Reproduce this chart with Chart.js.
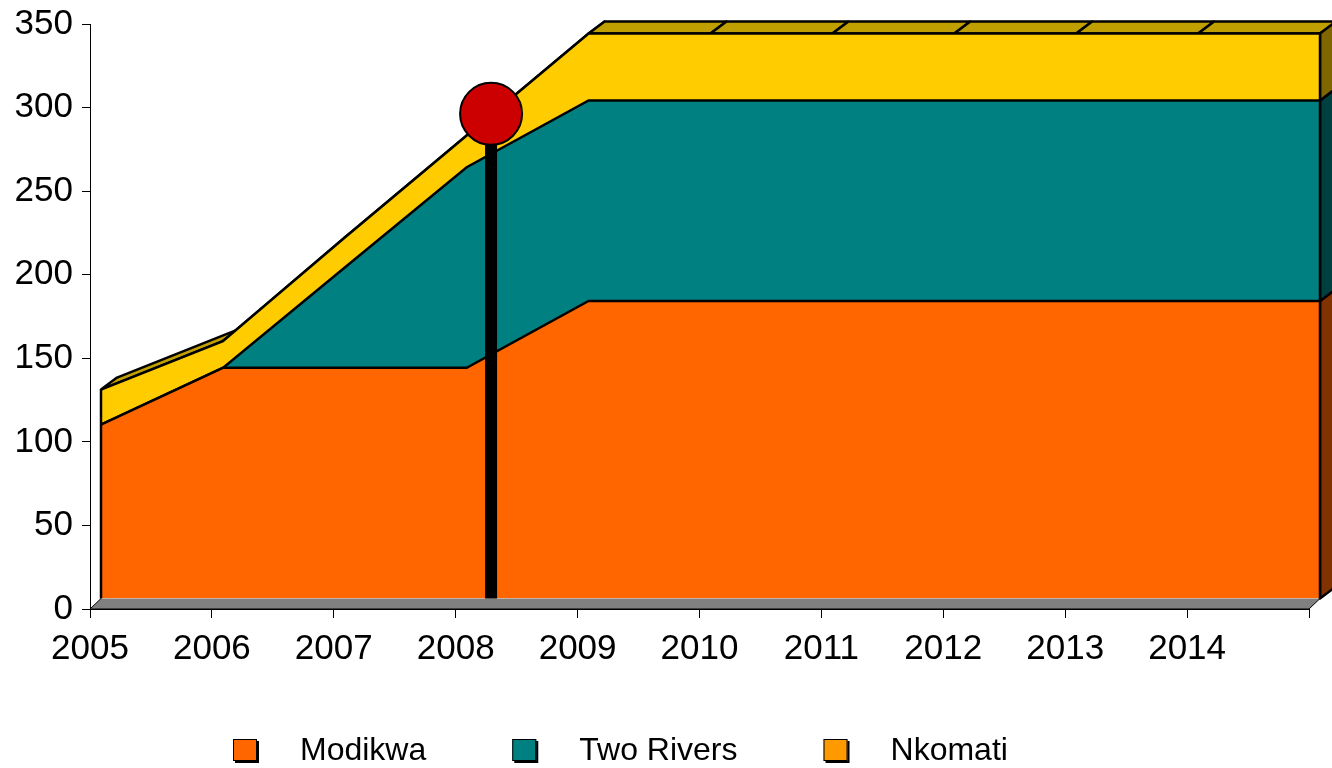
<!DOCTYPE html>
<html>
<head>
<meta charset="utf-8">
<script src="https://cdn.jsdelivr.net/npm/chart.js@4/dist/chart.umd.min.js"></script>
<style>
body { margin: 0; background: #fff; }
#wrap { width: 1332px; height: 768px; }
</style>
</head>
<body>
<div id="wrap"><canvas id="mineChart" width="1332" height="768"></canvas></div>
<script>
// x categories, 2015 only closes the last segment (no label)
const years = ['2005', '2006', '2007', '2008', '2009', '2010', '2011', '2012', '2013', '2014', '2015'];
const tickYears = ['2005', '2006', '2007', '2008', '2009', '2010', '2011', '2012', '2013', '2014'];

// series values
const modikwa   = [104, 138, 138, 138, 178, 178, 178, 178, 178, 178, 178];
const twoRivers = [0, 0, 60, 120, 120, 120, 120, 120, 120, 120, 120];
const nkomati   = [21, 16, 18, 19, 40, 40, 40, 40, 40, 40, 40];
const seriesNames = ['Modikwa', 'Two Rivers', 'Nkomati'];

// pin marker (a bit after 2008)
const pinPos = 3.2;
const pinValue = 290;

//Styles
const faceColors = ['#FF6600', '#008080', '#FFCC00'];
const sideColors = ['#803300', '#004040', '#806600'];
const legendColors = ['#FF6600', '#008080', '#FF9900'];
const topColor = '#C0A000';
const floorColor = '#808080';
const FRONT = {x: 11, y: -10.5};   // series front plane vs axis plane
const DEPTH = {x: 16, y: -12};     // slab depth
const font = 'Liberation Sans, Arial, sans-serif';

function cumulative() {
    let tops = [];
    let run = years.map(() => 0);
    [modikwa, twoRivers, nkomati].forEach(function (s) {
        run = run.map((v, i) => v + s[i]);
        tops.push(run.slice());
    });
    return tops;
}

function frontPt(chart, i, v) {
    return [chart.scales.x.getPixelForValue(i) + FRONT.x, chart.scales.y.getPixelForValue(v) + FRONT.y];
}

function poly(ctx, pts, fill, stroke, lw) {
    ctx.beginPath();
    ctx.moveTo(pts[0][0], pts[0][1]);
    for (let k = 1; k < pts.length; k++) ctx.lineTo(pts[k][0], pts[k][1]);
    ctx.closePath();
    if (fill) { ctx.fillStyle = fill; ctx.fill(); }
    if (stroke) { ctx.strokeStyle = stroke; ctx.lineWidth = lw; ctx.lineJoin = 'round'; ctx.stroke(); }
}

function back(p) {
    return [p[0] + DEPTH.x, p[1] + DEPTH.y];
}

const fake3d = {
    id: 'fake3d',
    beforeDatasetsDraw(chart) {
        const ctx = chart.ctx;
        const xs = chart.scales.x, ys = chart.scales.y;
        const last = years.length - 1;
        const y0 = ys.getPixelForValue(0);
        const xa = xs.getPixelForValue(0), xb = xs.getPixelForValue(last);

        ctx.save();
        // floor
        poly(ctx, [[xa, y0], [xb, y0], [xb + FRONT.x, y0 + FRONT.y], [xa + FRONT.x, y0 + FRONT.y]], floorColor, null);
        ctx.strokeStyle = '#000';
        ctx.lineWidth = 1;
        ctx.beginPath();
        ctx.moveTo(xa + FRONT.x, y0 + FRONT.y);
        ctx.lineTo(xa, y0);
        ctx.lineTo(xb, y0);
        ctx.lineTo(xb + FRONT.x, y0 + FRONT.y);
        ctx.stroke();

        const tops = cumulative();
        // top face of the upper series
        for (let i = 0; i < last; i++) {
            const a = frontPt(chart, i, tops[2][i]);
            const b = frontPt(chart, i + 1, tops[2][i + 1]);
            poly(ctx, [a, b, back(b), back(a)], topColor, '#000', 2.5);
        }
        // right side faces
        for (let s = 0; s < 3; s++) {
            const lo = s ? tops[s - 1][last] : 0;
            const a = frontPt(chart, last, lo);
            const b = frontPt(chart, last, tops[s][last]);
            poly(ctx, [a, b, back(b), back(a)], sideColors[s], '#000', 2.5);
        }
        ctx.restore();

        ctx.save();
        ctx.translate(FRONT.x, FRONT.y);
    },
    afterDatasetsDraw(chart) {
        const ctx = chart.ctx;
        ctx.restore();
        const tops = cumulative();
        const last = years.length - 1;
        ctx.save();
        ctx.strokeStyle = '#000';
        ctx.lineWidth = 2.5;
        [0, last].forEach(function (i) {
            const a = frontPt(chart, i, 0);
            const b = frontPt(chart, i, tops[2][i]);
            ctx.beginPath();
            ctx.moveTo(a[0], a[1]);
            ctx.lineTo(b[0], b[1]);
            ctx.stroke();
        });
        ctx.restore();
    }
};

const legendBox = {
    id: 'legendBox',
    afterDraw(chart) {
        const ctx = chart.ctx;
        ctx.save();
        ctx.font = '32px ' + font;
        ctx.textBaseline = 'middle';
        let x = 233;
        const y = 739;
        seriesNames.forEach(function (name, i) {
            ctx.fillStyle = '#000';
            ctx.fillRect(x + 2, y + 2, 24, 22);
            ctx.fillStyle = legendColors[i];
            ctx.fillRect(x, y, 24, 22);
            ctx.strokeStyle = '#000';
            ctx.lineWidth = 1;
            ctx.strokeRect(x + 0.5, y + 0.5, 23, 21);
            ctx.fillStyle = '#000';
            ctx.fillText(name, x + 67, y + 12);
            x += 67 + ctx.measureText(name).width + 86;
        });
        ctx.restore();
    }
};

function pts(arr) {
    return arr.map((v, i) => ({x: i, y: v}));
}

function area(label, data, i) {
    return {
        label: label,
        data: pts(data),
        backgroundColor: faceColors[i],
        borderColor: '#000',
        borderWidth: 2.5,
        pointRadius: 0,
        fill: i === 0 ? 'origin' : '-1',
        stack: 'mines',
        tension: 0
    };
}

new Chart(document.getElementById('mineChart').getContext('2d'), {
    type: 'line',
    data: {
        datasets: [
            area(seriesNames[0], modikwa, 0),
            area(seriesNames[1], twoRivers, 1),
            area(seriesNames[2], nkomati, 2),
            {
                label: 'pin',
                data: [{x: pinPos, y: 0}, {x: pinPos, y: pinValue}],
                borderColor: '#000',
                borderWidth: 12,
                borderCapStyle: 'butt',
                pointRadius: [0, 31],
                pointBackgroundColor: '#CC0000',
                pointBorderColor: '#000',
                pointBorderWidth: 2,
                fill: false,
                stack: 'pin',
                order: -1,
                clip: false
            }
        ]
    },
    options: {
        responsive: false,
        animation: false,
        devicePixelRatio: 1,
        layout: {autoPadding: false, padding: {left: 0, top: 24, right: 23, bottom: 99}},
        plugins: {
            legend: {display: false},
            tooltip: {enabled: false},
            filler: {propagate: false}
        },
        scales: {
            x: {
                type: 'linear',
                min: 0,
                max: years.length - 1,
                grid: {drawOnChartArea: false, color: '#000', tickLength: 9},
                border: {display: true, color: '#000'},
                ticks: {
                    stepSize: 1,
                    autoSkip: false,
                    maxRotation: 0,
                    padding: 10,
                    color: '#000',
                    font: {family: font, size: 35},
                    callback: (v) => tickYears[v] || ''
                },
                afterFit: (scale) => {
                    scale.height = 60;
                    scale.paddingLeft = 0;
                    scale.paddingRight = 0;
                }
            },
            y: {
                stacked: true,
                min: 0,
                max: 350,
                grid: {drawOnChartArea: false, color: '#000', tickLength: 8},
                border: {display: true, color: '#000'},
                ticks: {
                    stepSize: 50,
                    padding: 9,
                    color: '#000',
                    font: {family: font, size: 35}
                },
                afterFit: (scale) => {
                    scale.width = 90;
                    scale.paddingTop = 0;
                    scale.paddingBottom = 0;
                }
            }
        }
    },
    plugins: [fake3d, legendBox]
});
</script>
</body>
</html>
